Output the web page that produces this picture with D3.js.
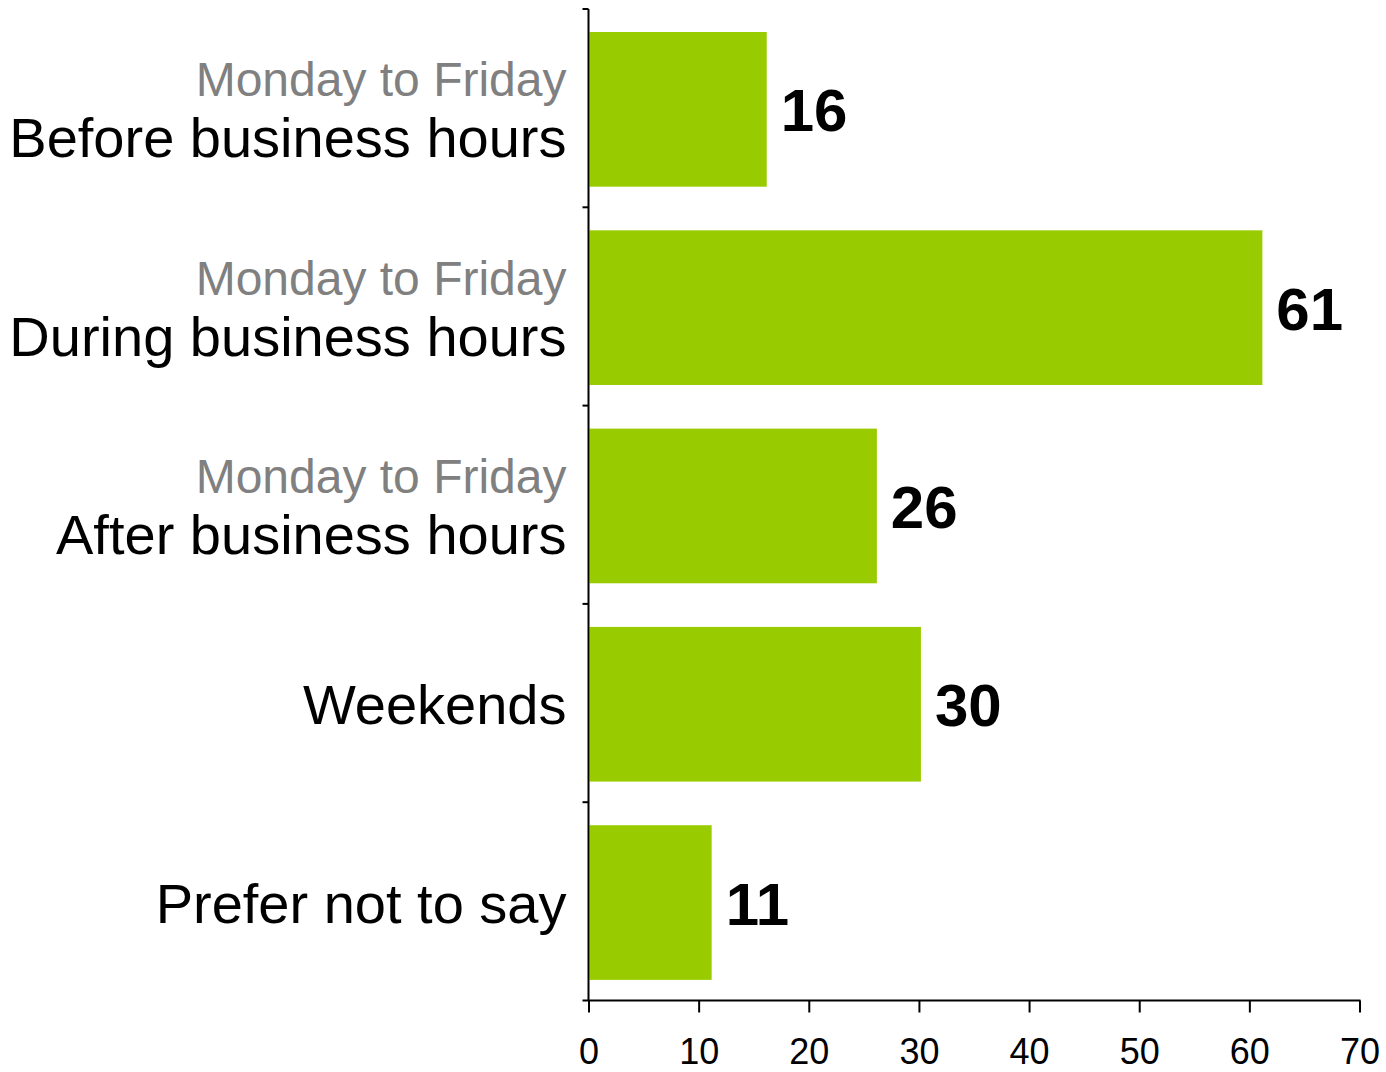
<!DOCTYPE html>
<html>
<head>
<meta charset="utf-8">
<script src="https://cdn.jsdelivr.net/npm/d3@7"></script>
<style>
  html, body { margin: 0; padding: 0; background: #fff; }
  svg { display: block; font-family: "Liberation Sans", Arial, sans-serif; }
</style>
</head>
<body>
<svg id="chart" width="1386" height="1072"></svg>
<script>
// Preferred contact times (counts)
const categories = [
  "Before business hours",
  "During business hours",
  "After business hours",
  "Weekends",
  "Prefer not to say"
];
const subLabels = ["Monday to Friday", "Monday to Friday", "Monday to Friday", "", ""];
const values = [16, 61, 26, 30, 11];
const xTicks = [0, 10, 20, 30, 40, 50, 60, 70];

const svg = d3.select("#chart");
const plotLeft = 588.5, plotRight = 1359.5, plotTop = 9, plotBottom = 1000.5;

const x = d3.scaleLinear().domain([0, 70]).range([plotLeft, plotRight]);
const y = d3.scaleBand().domain(categories).range([plotTop, plotBottom])
  .paddingInner(0.22).paddingOuter(0.11);
const barShift = 1.2;

// bars
svg.append("g").selectAll("rect")
  .data(categories)
  .join("rect")
  .attr("x", x(0) + 1)
  .attr("y", d => y(d) + barShift)
  .attr("width", (d, i) => x(values[i]) - x(0) + 1)
  .attr("height", y.bandwidth())
  .attr("fill", "#99CC00");

// value labels
svg.append("g").selectAll("text")
  .data(categories)
  .join("text")
  .attr("x", (d, i) => x(values[i]) + 16)
  .attr("y", d => y(d) + barShift + y.bandwidth() / 2 + 22)
  .attr("font-size", 60)
  .attr("font-weight", "bold")
  .attr("fill", "#000")
  .text((d, i) => values[i]);

// category labels
const lab = svg.append("g").selectAll("g")
  .data(categories)
  .join("g")
  .attr("transform", d => `translate(${plotLeft - 22},${y(d) + barShift + y.bandwidth() / 2})`);

lab.each(function(d, i) {
  const g = d3.select(this);
  if (subLabels[i]) {
    g.append("text")
      .attr("text-anchor", "end")
      .attr("y", -13)
      .attr("font-size", 48)
      .attr("fill", "#808080")
      .text(subLabels[i]);
    g.append("text")
      .attr("text-anchor", "end")
      .attr("y", 48)
      .attr("font-size", 56)
      .attr("fill", "#000")
      .text(d);
  } else {
    g.append("text")
      .attr("text-anchor", "end")
      .attr("y", 20)
      .attr("font-size", 56)
      .attr("fill", "#000")
      .text(d);
  }
});

// y axis: line with ticks at band boundaries
const yAxis = svg.append("g");
yAxis.append("line")
  .attr("x1", plotLeft).attr("x2", plotLeft)
  .attr("y1", plotTop).attr("y2", plotBottom)
  .attr("stroke", "#000").attr("stroke-width", 2);
const boundaries = categories.map(c => y(c) - y.step() * y.paddingInner() / 2);
boundaries[0] = plotTop;
yAxis.selectAll("line.tick")
  .data(boundaries)
  .join("line")
  .attr("class", "tick")
  .attr("x1", plotLeft - 6).attr("x2", plotLeft)
  .attr("y1", d => d).attr("y2", d => d)
  .attr("stroke", "#000").attr("stroke-width", 2);

// x axis
const xAxis = svg.append("g")
  .attr("transform", `translate(0,${plotBottom})`)
  .call(d3.axisBottom(x).tickValues(xTicks).tickSize(12).tickSizeOuter(0).tickPadding(26));
xAxis.select(".domain").remove();
xAxis.append("line")
  .attr("x1", plotLeft - 6).attr("x2", plotRight + 1)
  .attr("stroke", "#000").attr("stroke-width", 2);
xAxis.selectAll(".tick line").attr("stroke", "#000").attr("stroke-width", 2);
xAxis.selectAll(".tick text")
  .attr("font-size", 36)
  .attr("font-family", "Liberation Sans, Arial, sans-serif")
  .attr("fill", "#000");
</script>
</body>
</html>
